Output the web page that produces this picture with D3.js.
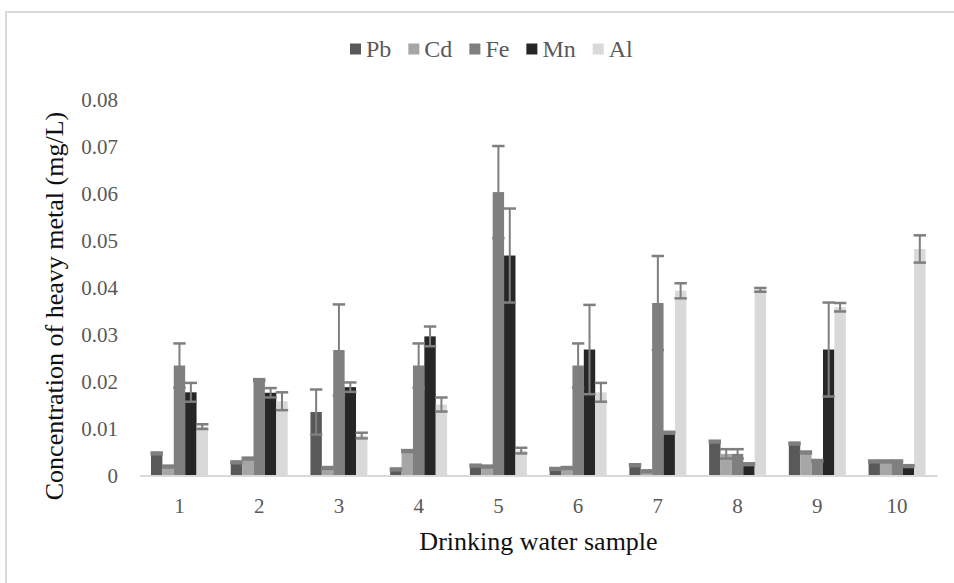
<!DOCTYPE html>
<html>
<head>
<meta charset="utf-8">
<script src="https://cdn.jsdelivr.net/npm/d3@7"></script>
<style>
  html, body { margin: 0; padding: 0; background: #fff; }
  svg { display: block; }
  svg text { font-family: "Liberation Serif", "Times New Roman", serif !important; }
</style>
</head>
<body>
<svg id="chart" width="954" height="583"></svg>
<script>
// ---- Data ----
const samples = ["1", "2", "3", "4", "5", "6", "7", "8", "9", "10"];
const seriesNames = ["Pb", "Cd", "Fe", "Mn", "Al"];
const seriesColors = ["#595959", "#a6a6a6", "#7f7f7f", "#262626", "#d9d9d9"];

const pb    = [0.0047, 0.0028, 0.0135, 0.0013, 0.0021, 0.0014, 0.0022, 0.0072, 0.0068, 0.0030];
const pbErr = [0.0002, 0.0002, 0.0048, 0.0002, 0.0002, 0.0002, 0.0002, 0.0002, 0.0002, 0.0002];
const cd    = [0.0019, 0.0036, 0.0016, 0.0052, 0.0019, 0.0016, 0.0009, 0.0046, 0.0049, 0.0030];
const cdErr = [0.0002, 0.0002, 0.0002, 0.0002, 0.0002, 0.0002, 0.0002, 0.0010, 0.0002, 0.0002];
const fe    = [0.0234, 0.0203, 0.0267, 0.0234, 0.0603, 0.0234, 0.0367, 0.0046, 0.0031, 0.0030];
const feErr = [0.0047, 0.0002, 0.0097, 0.0047, 0.0098, 0.0047, 0.0100, 0.0010, 0.0002, 0.0002];
const mn    = [0.0177, 0.0176, 0.0188, 0.0296, 0.0468, 0.0268, 0.0091, 0.0024, 0.0268, 0.0020];
const mnErr = [0.0020, 0.0010, 0.0010, 0.0021, 0.0100, 0.0095, 0.0002, 0.0002, 0.0100, 0.0002];
const al    = [0.0104, 0.0158, 0.0085, 0.0151, 0.0053, 0.0177, 0.0393, 0.0395, 0.0358, 0.0482];
const alErr = [0.0005, 0.0019, 0.0006, 0.0015, 0.0006, 0.0020, 0.0016, 0.0004, 0.0009, 0.0029];

const yTicks = [0, 0.01, 0.02, 0.03, 0.04, 0.05, 0.06, 0.07, 0.08];
const yTitle = "Concentration of heavy metal (mg/L)";
const xTitle = "Drinking water sample";

const seriesValues = [pb, cd, fe, mn, al];
const seriesErrors = [pbErr, cdErr, feErr, mnErr, alErr];

const SERIF = '"Liberation Serif", "Times New Roman", serif';

// ---- Layout ----
const svg = d3.select("#chart");
const plot = { left: 139.6, right: 936.9, top: 99.5, bottom: 475.5 };

// outer chart border (right/bottom edges fall outside the picture)
svg.append("rect")
  .attr("x", 6).attr("y", 12).attr("width", 980).attr("height", 600)
  .attr("fill", "none").attr("stroke", "#d9d9d9").attr("stroke-width", 2);

const x0 = d3.scaleBand().domain(samples).range([plot.left, plot.right]).paddingInner(0).paddingOuter(0);
const groupW = x0.bandwidth() / 1.4;
const x1 = d3.scaleBand().domain(seriesNames).range([0, groupW]);
const y = d3.scaleLinear().domain([0, 0.08]).range([plot.bottom, plot.top]);

const rows = [];
samples.forEach((s, i) => {
  seriesNames.forEach((n, j) => {
    rows.push({ sample: s, series: n, value: seriesValues[j][i], err: seriesErrors[j][i], color: seriesColors[j] });
  });
});

const offset = (x0.bandwidth() - groupW) / 2;

// bars
svg.append("g").selectAll("rect")
  .data(rows).enter().append("rect")
  .attr("x", d => x0(d.sample) + offset + x1(d.series))
  .attr("y", d => y(d.value))
  .attr("width", x1.bandwidth())
  .attr("height", d => y(0) - y(d.value))
  .attr("fill", d => d.color);

// x axis (baseline)
const xAxis = svg.append("g")
  .attr("transform", `translate(0,${plot.bottom})`)
  .call(d3.axisBottom(x0).tickSize(0).tickSizeOuter(0).tickPadding(22.5));
xAxis.attr("font-family", null).attr("font-size", null);
xAxis.select(".domain").attr("stroke", "#d9d9d9").attr("stroke-width", 2);
xAxis.selectAll("text").style("font-size", "21px").style("font-family", SERIF).attr("fill", "#595959");

// error bars
const eb = svg.append("g").attr("stroke", "#7f7f7f").attr("fill", "none");
rows.forEach(d => {
  const cx = x0(d.sample) + offset + x1(d.series) + x1.bandwidth() / 2;
  const hw = x1.bandwidth() / 2 + 0.5;
  const yHi = y(d.value + d.err), yLo = y(d.value - d.err);
  eb.append("line").attr("x1", cx).attr("x2", cx).attr("y1", yHi).attr("y2", yLo).attr("stroke-width", 2);
  eb.append("line").attr("x1", cx - hw).attr("x2", cx + hw).attr("y1", yHi).attr("y2", yHi).attr("stroke-width", 2.5);
  eb.append("line").attr("x1", cx - hw).attr("x2", cx + hw).attr("y1", yLo).attr("y2", yLo).attr("stroke-width", 2.5);
});

// y axis (labels only)
const yAxis = svg.append("g")
  .attr("transform", `translate(${plot.left},0)`)
  .call(d3.axisLeft(y).tickValues(yTicks).tickSize(0).tickPadding(21.5)
    .tickFormat(d => d === 0 ? "0" : d3.format(".2f")(d)));
yAxis.attr("font-family", null).attr("font-size", null);
yAxis.select(".domain").remove();
yAxis.selectAll("text").style("font-size", "21px").style("font-family", SERIF).attr("fill", "#595959");

// axis titles
svg.append("text")
  .attr("transform", "translate(63,306) rotate(-90)")
  .attr("text-anchor", "middle")
  .style("font-size", "26px").style("font-family", SERIF).attr("fill", "#111")
  .text(yTitle);

svg.append("text")
  .attr("x", 538.5).attr("y", 550)
  .attr("text-anchor", "middle")
  .style("font-size", "26px").style("font-family", SERIF).attr("fill", "#111")
  .text(xTitle);

// legend
const legend = svg.append("g");
let lx = 350;
seriesNames.forEach((n, j) => {
  legend.append("rect").attr("x", lx).attr("y", 43.5).attr("width", 11).attr("height", 11).attr("fill", seriesColors[j]);
  const t = legend.append("text").attr("x", lx + 16).attr("y", 56.5)
    .style("font-size", "24px").style("font-family", SERIF).attr("fill", "#595959").text(n);
  lx += 16 + t.node().getComputedTextLength() + 17;
});
</script>
</body>
</html>
